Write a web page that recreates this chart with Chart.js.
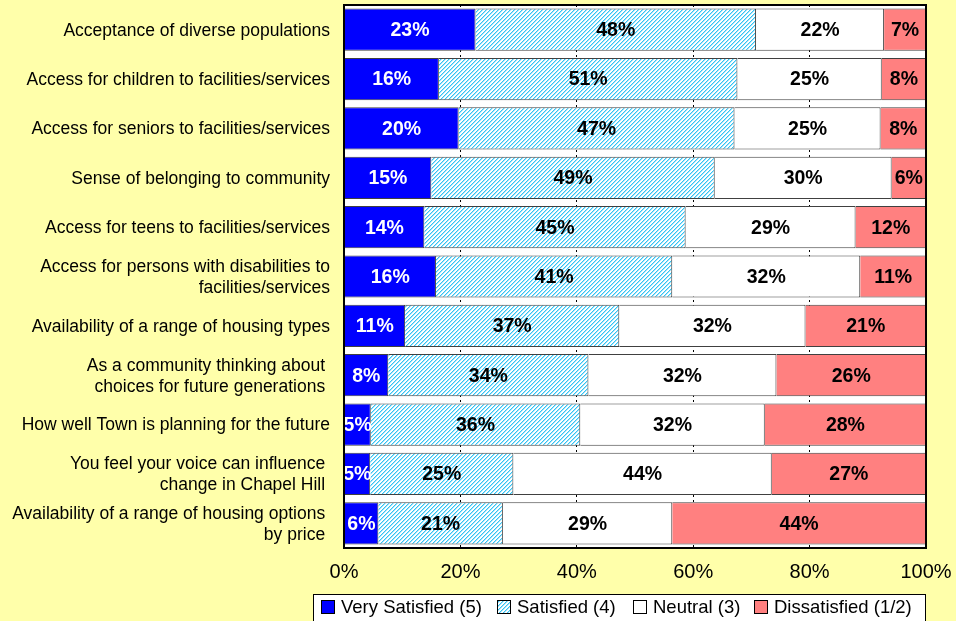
<!DOCTYPE html>
<html><head><meta charset="utf-8">
<script src="https://cdn.jsdelivr.net/npm/chart.js@4.4.1/dist/chart.umd.min.js"></script>
<style>html,body{margin:0;padding:0;background:#FFFFAA;}canvas{display:block;}</style>
</head><body>
<canvas id="c" width="956" height="621"></canvas>
<script>
const categories = [
  'Acceptance of diverse populations',
  'Access for children to facilities/services',
  'Access for seniors to facilities/services',
  'Sense of belonging to community',
  'Access for teens to facilities/services',
  ['Access for persons with disabilities to', 'facilities/services'],
  'Availability of a range of housing types',
  ['As a community thinking about ', 'choices for future generations '],
  'How well Town is planning for the future',
  ['You feel your voice can influence ', 'change in Chapel Hill '],
  ['Availability of a range of housing options ', 'by price ']
];
const seriesNames = ['Very Satisfied (5)', 'Satisfied (4)', 'Neutral (3)', 'Dissatisfied (1/2)'];
const verySatisfied = [22.6, 16.3, 19.7, 15.0, 13.8, 15.8, 10.5, 7.6, 4.6, 4.5, 5.9];
const satisfied     = [48.2, 51.3, 47.4, 48.7, 44.9, 40.6, 36.8, 34.4, 36.0, 24.6, 21.4];
const neutral       = [22.0, 24.8, 25.1, 30.4, 29.2, 32.3, 32.0, 32.3, 31.7, 44.4, 29.1];
const dissatisfied  = [7.2, 7.6, 7.8, 5.9, 12.1, 11.3, 20.7, 25.7, 27.7, 26.5, 43.6];
const xTicks = [0, 20, 40, 60, 80, 100];

const FONT = '"Liberation Sans", Arial, sans-serif';
const canvas = document.getElementById('c');
const ctx0 = canvas.getContext('2d');

function makeHatch() {
  const t = document.createElement('canvas');
  t.width = 4; t.height = 4;
  const g = t.getContext('2d');
  g.fillStyle = '#ffffff'; g.fillRect(0, 0, 4, 4);
  for (let x = 0; x < 4; x++) for (let y = 0; y < 4; y++) {
    const k = (x + y) % 4;
    if (k === 3) { g.fillStyle = '#33C4F4'; g.fillRect(x, y, 1, 1); }
    else if (k === 0) { g.fillStyle = '#A8E4FA'; g.fillRect(x, y, 1, 1); }
  }
  return ctx0.createPattern(t, 'repeat');
}
const hatch = makeHatch();
const fills = ['#0000FF', hatch, '#FFFFFF', '#FF8080'];
const seriesData = [verySatisfied, satisfied, neutral, dissatisfied];

const decor = {
  id: 'decor',
  beforeDraw(chart) {
    const {ctx, chartArea: a} = chart;
    ctx.save();
    ctx.fillStyle = '#FFFFFF';
    ctx.fillRect(a.left, a.top, a.right - a.left, a.bottom - a.top);
    ctx.restore();
  },
  afterDatasetsDraw(chart) {
    const {ctx, chartArea: a} = chart;
    ctx.save();
    ctx.font = 'bold 19.5px ' + FONT;
    ctx.textAlign = 'center';
    ctx.textBaseline = 'middle';
    chart.data.datasets.forEach((ds, i) => {
      const meta = chart.getDatasetMeta(i);
      ctx.fillStyle = i === 0 ? '#FFFFFF' : '#000000';
      meta.data.forEach((el, j) => {
        const v = ds.data[j];
        ctx.fillText(Math.round(v) + '%', (el.x + el.base) / 2, el.y + 1);
      });
    });
    ctx.strokeStyle = '#000000';
    ctx.lineWidth = 2;
    ctx.strokeRect(a.left, a.top, a.right - a.left, a.bottom - a.top);
    ctx.restore();
  },
  afterDraw(chart) {
    const ctx = chart.ctx;
    ctx.save();
    const bx = 313, by = 594;
    ctx.fillStyle = '#FFFFFF';
    ctx.fillRect(bx, by, 926 - bx, 40);
    ctx.strokeStyle = '#000000';
    ctx.lineWidth = 1;
    ctx.strokeRect(bx + 0.5, by + 0.5, 926 - bx - 1, 40);
    const sx = [321, 497, 633, 754];
    ctx.font = '18.5px ' + FONT;
    ctx.textBaseline = 'middle';
    ctx.textAlign = 'left';
    chart.data.datasets.forEach((ds, i) => {
      ctx.fillStyle = ds.backgroundColor;
      ctx.fillRect(sx[i], 600, 14, 14);
      ctx.strokeStyle = '#000000';
      ctx.strokeRect(sx[i] + 0.5, 600.5, 13, 13);
      ctx.fillStyle = '#000000';
      ctx.fillText(ds.label, sx[i] + 20, 608);
    });
    ctx.restore();
  }
};

new Chart(canvas, {
  type: 'bar',
  data: {
    labels: categories,
    datasets: seriesData.map((d, i) => ({
      label: seriesNames[i],
      data: d,
      backgroundColor: fills[i],
      borderColor: '#404040',
      borderWidth: 1,
      categoryPercentage: 0.855,
      barPercentage: 1.0
    }))
  },
  options: {
    indexAxis: 'y',
    responsive: false,
    animation: false,
    events: [],
    layout: {padding: {left: 0, right: 30, top: 5, bottom: 0}},
    plugins: {legend: {display: false}, tooltip: {enabled: false}},
    scales: {
      x: {
        stacked: true,
        min: 0, max: 100,
        afterBuildTicks: s => { s.ticks = xTicks.map(v => ({value: v})); },
        afterFit: s => { s.height = 73; s.paddingLeft = 0; s.paddingRight = 0; },
        grid: {color: '#000000', lineWidth: 1, drawTicks: false},
        border: {display: false, dash: [2, 3]},
        ticks: {
          padding: 12,
          color: '#000000',
          font: {family: FONT, size: 20},
          callback: v => v + '%',
          maxRotation: 0
        }
      },
      y: {
        stacked: true,
        afterFit: s => { s.width = 344; s.paddingTop = 0; s.paddingBottom = 0; },
        grid: {display: false, drawTicks: false},
        border: {display: false},
        ticks: {
          padding: 14,
          labelOffset: 1,
          color: '#000000',
          font: {family: FONT, size: 17.5, lineHeight: 1.2},
          autoSkip: false
        }
      }
    }
  },
  plugins: [decor]
});
</script>
</body></html>
